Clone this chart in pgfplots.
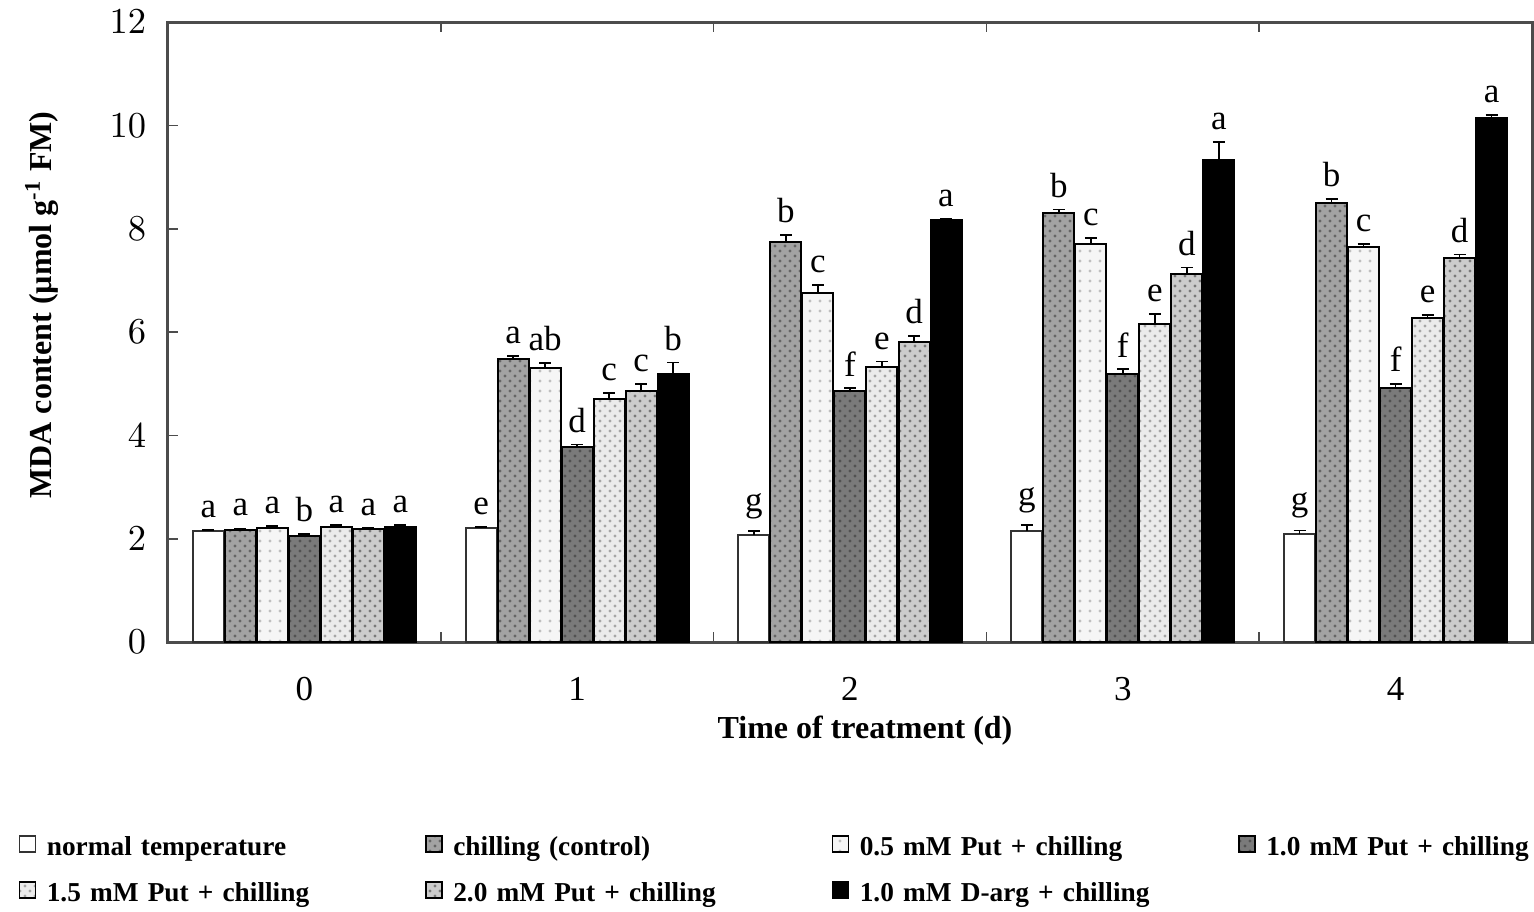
\documentclass[border=0pt]{standalone}
\usepackage{fontspec}
\setmainfont{Liberation Serif}
\usepackage{pgfplots}
\pgfplotsset{compat=1.18}
\usepackage{pgfplotstable}
\usetikzlibrary{patterns}

\pgfplotstableread{
x y e lab
0 2.15 0.02 a
1 2.20 0.02 e
2 2.07 0.08 g
3 2.15 0.12 g
4 2.10 0.06 g
}\tnormal
\pgfplotstableread{
x y e lab
0 2.17 0.03 a
1 5.48 0.06 a
2 7.74 0.14 b
3 8.30 0.07 b
4 8.50 0.08 b
}\tchill
\pgfplotstableread{
x y e lab
0 2.20 0.05 a
1 5.30 0.10 ab
2 6.76 0.15 c
3 7.70 0.12 c
4 7.65 0.05 c
}\tpa
\pgfplotstableread{
x y e lab
0 2.05 0.04 b
1 3.77 0.05 d
2 4.86 0.05 f
3 5.18 0.10 f
4 4.92 0.08 f
}\tpb
\pgfplotstableread{
x y e lab
0 2.22 0.04 a
1 4.70 0.12 c
2 5.33 0.10 e
3 6.15 0.20 e
4 6.28 0.05 e
}\tpc
\pgfplotstableread{
x y e lab
0 2.18 0.03 a
1 4.85 0.15 c
2 5.80 0.12 d
3 7.12 0.13 d
4 7.43 0.07 d
}\tpd
\pgfplotstableread{
x y e lab
0 2.22 0.04 a
1 5.18 0.23 b
2 8.16 0.03 a
3 9.33 0.35 a
4 10.15 0.05 a
}\targ

\pgfplotsset{
  sq/.style={legend image code/.code={
    \draw[##1, line width=0.5pt] (0pt,-0.9pt) rectangle (4.8pt,3.9pt);
    \path (6.4pt,0pt);}}
}

\begin{document}
\begin{tikzpicture}
\begin{axis}[
  name=ax,
  scale only axis,
  width=409.2pt, height=186pt,
  xmin=-0.5, xmax=4.5, ymin=0, ymax=12,
  ybar=0.3pt, bar width=9.3pt,
  xtick={0,1,2,3,4},
  xticklabels={0,1,2,3,4},
  major x tick style={draw=none},
  extra x ticks={0.5,1.5,2.5,3.5},
  extra x tick labels={},
  extra x tick style={major tick length=3pt, tick align=inside, major x tick style={draw=black!70}},
  ytick={0,2,4,6,8,10,12},
  ytick pos=left, tick align=inside, major tick length=3pt,
  axis line style={draw=black!70, line width=0.9pt},
  tick style={black!70, line width=0.5pt},
  tick label style={font=\fontsize{10.5}{12}\selectfont},
  xticklabel style={anchor=center, yshift=-14pt},
  yticklabel style={anchor=east, xshift=-3pt},
  xlabel={\bfseries Time of treatment (d)},
  ylabel={\bfseries MDA content (µmol g\textsuperscript{-1} FM)},
  label style={font=\fontsize{9.6}{11}\selectfont},
  xlabel style={at={(axis description cs:0.511,-0.1435)}, anchor=center},
  ylabel style={at={(axis description cs:-0.0924,0.5435)}, anchor=center},
  error bars/y dir=plus, error bars/y explicit,
  error bars/error bar style={black, line width=0.5pt},
  error bars/error mark options={rotate=90, mark size=1.8pt, black, line width=0.5pt},
  nodes near coords, point meta=explicit symbolic,
  visualization depends on={\thisrow{e} \as \myerr},
  every node near coord/.append style={yshift=\myerr*15.5pt+1.8pt, font=\fontsize{10.5}{12}\selectfont, inner sep=1.5pt, anchor=south, black},
  legend columns=4,
  legend style={at={(0,0)}, anchor=north west, xshift=-45pt, yshift=-56.8pt,
    draw=none, fill=none, inner sep=0pt, row sep=3.6pt,
    font=\bfseries\fontsize{8.2}{9.7}\selectfont,
    nodes={inner sep=1.5pt, text width=112pt, align=left}},
]
\addplot[sq, fill=white, draw=black!80, line width=0.6pt] table[x=x, y=y, y error=e, meta=lab] {\tnormal};
\addplot[sq, fill=black!36, draw=black, line width=0.6pt, postaction={pattern=crosshatch dots, pattern color=black!60}] table[x=x, y=y, y error=e, meta=lab] {\tchill};
\addplot[sq, fill=black!4, draw=black, line width=0.6pt, postaction={pattern=dots, pattern color=black!25}] table[x=x, y=y, y error=e, meta=lab] {\tpa};
\addplot[sq, fill=black!52, draw=black, line width=0.6pt, postaction={pattern=crosshatch dots, pattern color=black!68}] table[x=x, y=y, y error=e, meta=lab] {\tpb};
\addplot[sq, fill=black!8, draw=black, line width=0.6pt, postaction={pattern=crosshatch dots, pattern color=black!35}] table[x=x, y=y, y error=e, meta=lab] {\tpc};
\addplot[sq, fill=black!20, draw=black, line width=0.6pt, postaction={pattern=crosshatch dots, pattern color=black!52}] table[x=x, y=y, y error=e, meta=lab] {\tpd};
\addplot[sq, fill=black, draw=black, line width=0.6pt] table[x=x, y=y, y error=e, meta=lab] {\targ};
\legend{normal temperature, chilling (control), 0.5 mM Put + chilling, 1.0 mM Put + chilling, 1.5 mM Put + chilling, 2.0 mM Put + chilling, 1.0 mM D-arg + chilling}
\end{axis}
\pgfresetboundingbox
\path (ax.south west) ++(-50.4pt,-80.7pt) rectangle ++(460.2pt,273.3pt);
\end{tikzpicture}
\end{document}
